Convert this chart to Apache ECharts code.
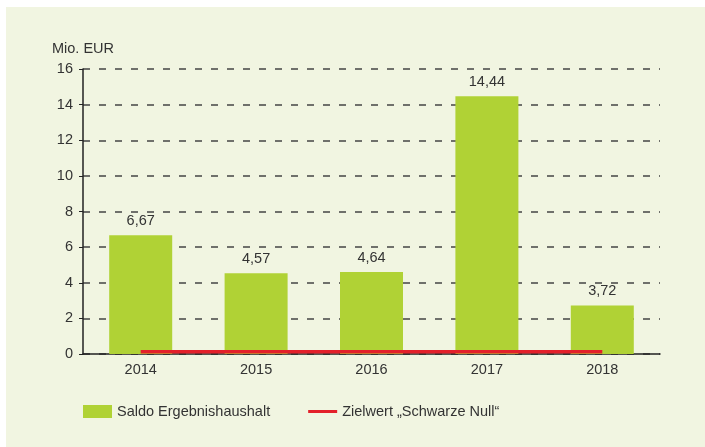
<!DOCTYPE html>
<html>
<head>
<meta charset="utf-8">
<script src="https://cdn.jsdelivr.net/npm/echarts@6/dist/echarts.min.js"></script>
<style>
    html, body {
        margin: 0;
        padding: 0;
        background: #fff;
    }
    .box {
        position: absolute;
        left: 6px;
        top: 7px;
        width: 699px;
        height: 440px;
        background: #f1f5e1;
    }
    #chart {
        position: absolute;
        left: -6px;
        top: -7px;
        width: 705px;
        height: 447px;
    }
</style>
</head>
<body>
<div class="box">
    <div id="chart"></div>
</div>
<script>
    // Daten
    var years = ['2014', '2015', '2016', '2017', '2018'];
    var saldo = [6.67, 4.54, 4.6, 14.47, 2.72];
    var saldoLabels = ['6,67', '4,57', '4,64', '14,44', '3,72'];
    var zielwert = [0.12, 0.12, 0.12, 0.12, 0.12];
    var yTicks = [0, 2, 4, 6, 8, 10, 12, 14, 16];

    var font = 'Liberation Sans, Arial, sans-serif';
    var textColor = '#333';
    var fs = 14.5;

    var option = {
        backgroundColor: 'transparent',
        textStyle: {
            fontFamily: font
        },
        grid: {
            left: 83,
            right: 45,
            top: 69,
            bottom: 93
        },
        legend: {
            left: 78,
            top: 399,
            itemWidth: 29,
            itemHeight: 13,
            itemGap: 38,
            textStyle: {
                fontFamily: font,
                fontSize: fs,
                color: textColor
            },
            data: [
                { name: 'Saldo Ergebnishaushalt', icon: 'rect' },
                { name: 'Zielwert „Schwarze Null“', icon: 'path://M0,0H29V3H0Z' }
            ]
        },
        xAxis: {
            type: 'category',
            data: years,
            axisLine: {
                lineStyle: { color: '#222', width: 1.5 }
            },
            axisTick: {
                length: 4,
                lineStyle: { color: '#222' }
            },
            axisLabel: {
                color: textColor,
                fontSize: fs,
                margin: 8
            }
        },
        yAxis: {
            type: 'value',
            min: yTicks[0],
            max: yTicks[yTicks.length - 1],
            interval: 2,
            name: 'Mio. EUR',
            nameGap: 13,
            nameTextStyle: {
                color: textColor,
                fontSize: fs
            },
            axisLine: {
                show: true,
                lineStyle: { color: '#222', width: 1.5 }
            },
            axisTick: {
                show: true,
                length: 4,
                lineStyle: { color: '#222' }
            },
            axisLabel: {
                color: textColor,
                fontSize: fs,
                margin: 10
            },
            splitLine: {
                lineStyle: {
                    type: [7, 9],
                    color: '#444',
                    width: 1.5
                }
            }
        },
        series: [
            {
                name: 'Saldo Ergebnishaushalt',
                type: 'bar',
                barWidth: 63,
                data: saldo,
                itemStyle: { color: '#b0d235' },
                z: 3,
                label: {
                    show: true,
                    position: 'top',
                    distance: 7,
                    color: textColor,
                    fontSize: fs,
                    fontFamily: font,
                    formatter: function (p) {
                        return saldoLabels[p.dataIndex];
                    }
                }
            },
            {
                name: 'Zielwert „Schwarze Null“',
                type: 'line',
                data: zielwert,
                symbol: 'none',
                z: 4,
                lineStyle: { color: '#e3202a', width: 3.5 },
                itemStyle: { color: '#e3202a' }
            }
        ]
    };

    var chart = echarts.init(document.getElementById('chart'));
    chart.setOption(option);
</script>
</body>
</html>
